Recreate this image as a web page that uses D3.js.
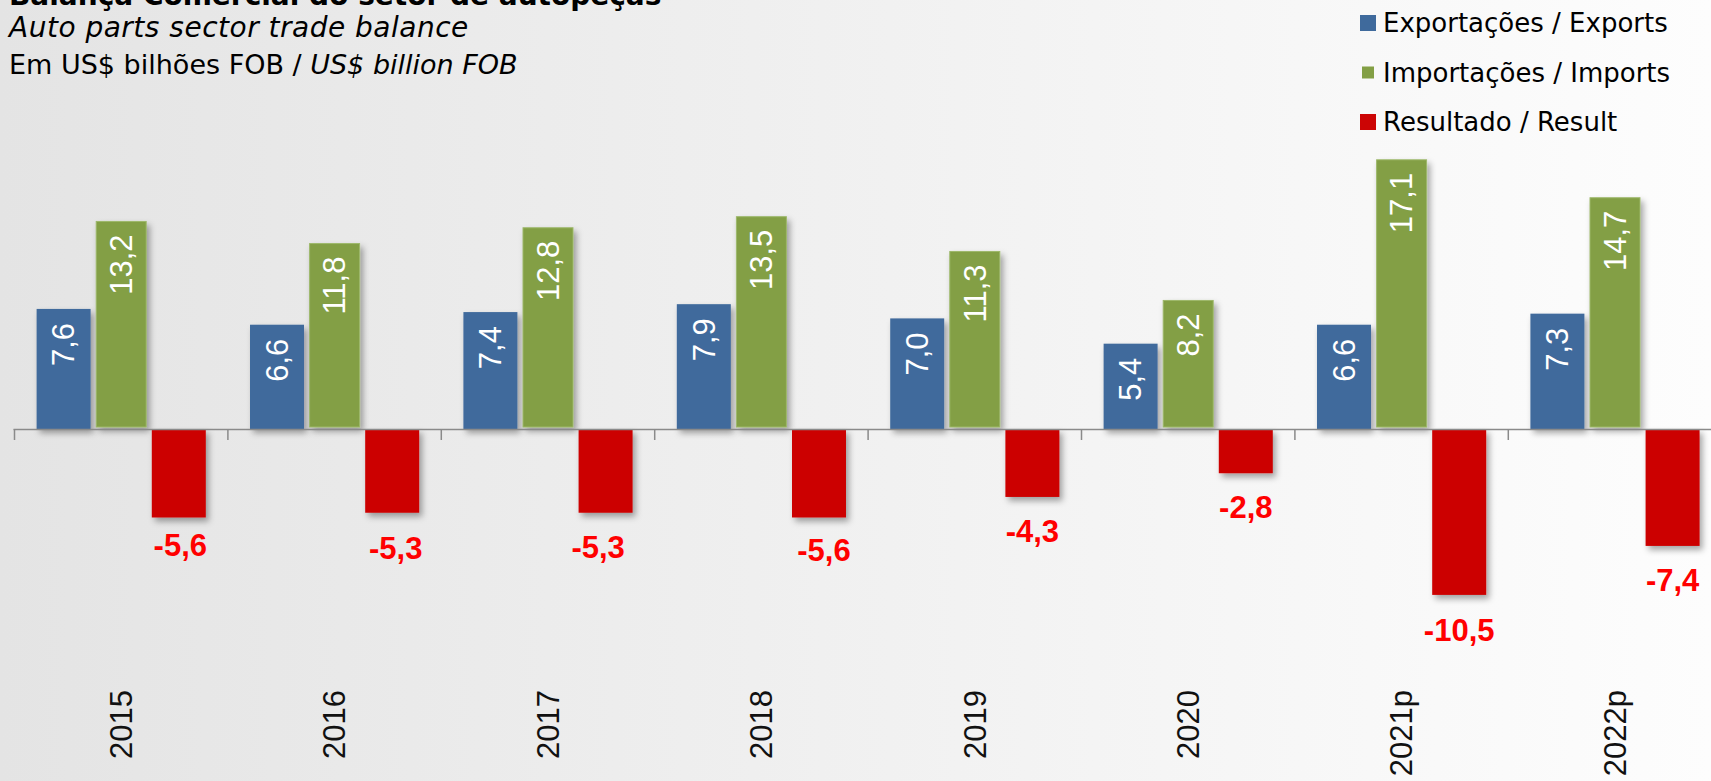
<!DOCTYPE html>
<html>
<head>
<meta charset="utf-8">
<script src="https://cdn.jsdelivr.net/npm/d3@7"></script>
<style>
  html, body { margin: 0; padding: 0; background: #fff; }
  svg { display: block; }
</style>
</head>
<body>
<div id="chart"></div>
<script>
// ---------- data ----------
const categories = ["2015", "2016", "2017", "2018", "2019", "2020", "2021p", "2022p"];
const exportsValues = [7.6, 6.6, 7.4, 7.9, 7.0, 5.4, 6.6, 7.3];
const importsValues = [13.2, 11.8, 12.8, 13.5, 11.3, 8.2, 17.1, 14.7];
const resultValues = [-5.6, -5.3, -5.3, -5.6, -4.3, -2.8, -10.5, -7.4];
const seriesKeys = ["exports", "imports", "result"];
const seriesLabels = ["Exportações / Exports", "Importações / Imports", "Resultado / Result"];
const titleText = "Balança Comercial do setor de autopeças";
const subtitleText = "Auto parts sector trade balance";
const unitNormal = "Em US$ bilhões FOB / ";
const unitItalic = "US$ billion FOB";

// ---------- layout / style ----------
const W = 1711, H = 781;
const colors = { exports: "#3f6a9c", imports: "#839f45", result: "#cc0505" };
const seriesValues = { exports: exportsValues, imports: importsValues, result: resultValues };
// small manual nudges of the result labels (as placed in the original)
const resultLabelNudgeX = [1.5, 3.5, -7.5, 5, 0, 0, 0, 0];
const resultLabelNudgeY = [-6, 1, 0, -1.5, 0, 0, 1, 0];

const fmt = d3.formatLocale({ decimal: ",", thousands: ".", grouping: [3], currency: ["", ""], minus: "-" }).format(".1f");

const svg = d3.select("#chart").append("svg").attr("width", W).attr("height", H);
const defs = svg.append("defs");

const grad = defs.append("linearGradient").attr("id", "bg").attr("x1", 0).attr("x2", 1).attr("y1", 0).attr("y2", 0);
grad.append("stop").attr("offset", "0%").attr("stop-color", "#e4e4e4");
grad.append("stop").attr("offset", "100%").attr("stop-color", "#fdfdfd");

const shadow = defs.append("filter").attr("id", "shadow").attr("x", "-20%").attr("y", "-20%").attr("width", "150%").attr("height", "150%");
shadow.append("feDropShadow").attr("dx", 3).attr("dy", 4).attr("stdDeviation", 3)
  .attr("flood-color", "#000").attr("flood-opacity", 0.35);

svg.append("rect").attr("width", W).attr("height", H).attr("fill", "url(#bg)");

// scales
const x0 = d3.scaleBand().domain(categories).range([14.5, 14.5 + 8 * 213.4]).paddingInner(0).paddingOuter(0);
const x1 = d3.scaleBand().domain(seriesKeys).range([0, x0.bandwidth()]).paddingInner(0.0625).paddingOuter(0.384);
const y = d3.scaleLinear().domain([-12, 18]).range([429 + 12 * 15.8, 429 - 18 * 15.8]);

const rows = categories.map((c, i) => ({ cat: c, i }));

// bars
const groups = svg.append("g").selectAll("g").data(rows).join("g")
  .attr("transform", d => `translate(${x0(d.cat)},0)`);

const barData = d => seriesKeys.map(k => ({ key: k, value: seriesValues[k][d.i], cat: d.cat, i: d.i }));

groups.selectAll("rect").data(barData).join("rect")
  .attr("x", b => x1(b.key) + (b.key === "imports" ? 2 : 0))
  .attr("width", b => x1.bandwidth() - (b.key === "imports" ? 4 : 0))
  .attr("y", b => b.value >= 0 ? y(b.value) + (b.key === "imports" ? 1 : 0) : y(0))
  .attr("height", b => Math.abs(y(b.value) - y(0)) - (b.key === "imports" ? 3 : 0))
  .attr("fill", b => colors[b.key])
  .attr("stroke", b => b.key === "imports" ? "#9db86a" : "none")
  .attr("stroke-width", 1)
  .attr("filter", "url(#shadow)");

// value labels inside positive bars
groups.selectAll("text.inside").data(d => barData(d).filter(b => b.value >= 0)).join("text")
  .attr("class", "inside")
  .attr("transform", b => `translate(${x1(b.key) + x1.bandwidth() / 2},${y(b.value) + 14}) rotate(-90)`)
  .attr("text-anchor", "end")
  .attr("dy", "0.35em")
  .attr("fill", "#ffffff")
  .attr("font-family", "'Liberation Sans', Arial, sans-serif")
  .attr("font-size", 31)
  .text(b => fmt(b.value));

// labels below negative bars
groups.selectAll("text.below").data(d => barData(d).filter(b => b.value < 0)).join("text")
  .attr("class", "below")
  .attr("x", b => x1(b.key) + x1.bandwidth() / 2 + resultLabelNudgeX[b.i])
  .attr("y", b => y(b.value) + 45 + resultLabelNudgeY[b.i])
  .attr("text-anchor", "middle")
  .attr("fill", "#ff0000")
  .attr("font-family", "'Liberation Sans', Arial, sans-serif")
  .attr("font-weight", "bold")
  .attr("font-size", 31)
  .text(b => fmt(b.value));

// axis
const axisG = svg.append("g");
axisG.append("line")
  .attr("x1", x0.range()[0] - 1).attr("x2", W)
  .attr("y1", y(0) + 0.5).attr("y2", y(0) + 0.5)
  .attr("stroke", "#8a8a8a").attr("stroke-width", 1.5);
axisG.selectAll("line.tick").data(categories).join("line")
  .attr("class", "tick")
  .attr("x1", c => x0(c)).attr("x2", c => x0(c))
  .attr("y1", y(0)).attr("y2", y(0) + 11)
  .attr("stroke", "#8a8a8a").attr("stroke-width", 1.5);

// category labels
axisG.selectAll("text.cat").data(categories).join("text")
  .attr("class", "cat")
  .attr("transform", c => `translate(${x0(c) + x0.bandwidth() / 2},690) rotate(-90)`)
  .attr("text-anchor", "end")
  .attr("dy", "0.35em")
  .attr("fill", "#111")
  .attr("font-family", "'Liberation Sans', Arial, sans-serif")
  .attr("font-size", 31)
  .text(c => c);

// titles
svg.append("text").attr("x", 9).attr("y", 5)
  .attr("font-family", "'DejaVu Sans', sans-serif").attr("font-weight", "bold").attr("font-size", 28)
  .attr("fill", "#000").text(titleText);
svg.append("text").attr("x", 9).attr("y", 37)
  .attr("font-family", "'DejaVu Sans', sans-serif").attr("font-style", "italic").attr("font-size", 28)
  .attr("letter-spacing", 0.5)
  .attr("fill", "#000").text(subtitleText);
const unit = svg.append("text").attr("x", 9).attr("y", 74)
  .attr("font-family", "'DejaVu Sans', sans-serif").attr("font-size", 27).attr("fill", "#000");
unit.append("tspan").text(unitNormal);
unit.append("tspan").attr("font-style", "italic").text(unitItalic);

// legend
const legend = svg.append("g").attr("transform", "translate(1368,0)");
const legendRowY = [23, 72.5, 122];
const legendSize = [16, 12, 16];
const lg = legend.selectAll("g").data(seriesKeys).join("g")
  .attr("transform", (k, i) => `translate(0,${legendRowY[i]})`);
lg.append("rect")
  .attr("x", (k, i) => -legendSize[i] / 2).attr("y", (k, i) => -legendSize[i] / 2)
  .attr("width", (k, i) => legendSize[i]).attr("height", (k, i) => legendSize[i])
  .attr("fill", k => colors[k]);
lg.append("text")
  .attr("x", 15).attr("dy", "0.35em")
  .attr("font-family", "'DejaVu Sans', sans-serif").attr("font-size", 26)
  .attr("fill", "#000")
  .text((k, i) => seriesLabels[i]);
</script>
</body>
</html>
